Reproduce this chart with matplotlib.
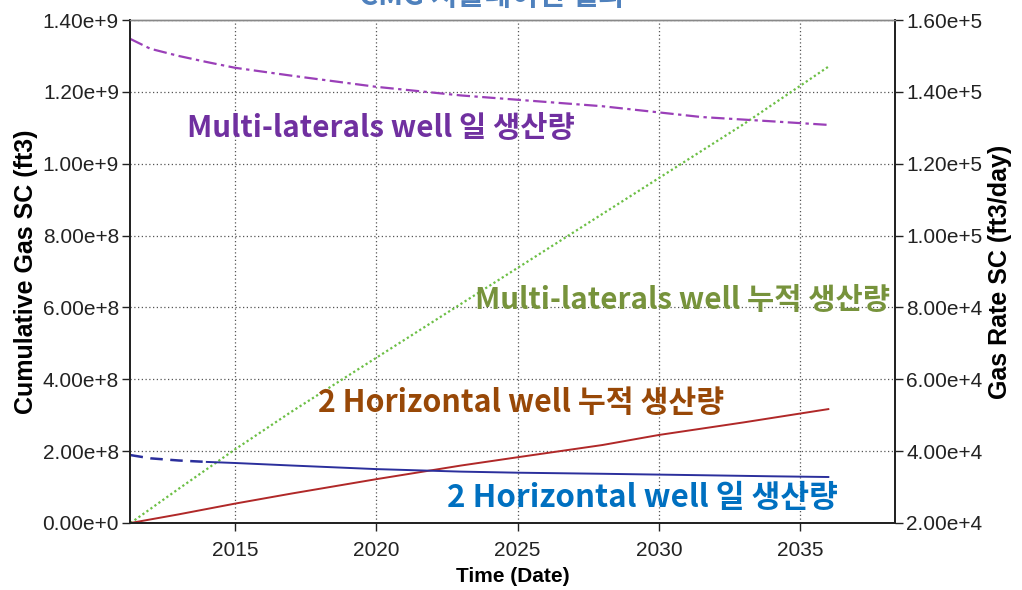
import matplotlib

matplotlib.use("Agg")
import matplotlib.pyplot as plt
from matplotlib.ticker import FuncFormatter, MultipleLocator

# --- data ------------------------------------------------------------------
# cumulative gas (ft3), left axis
cum_years = [2011.3, 2013, 2015, 2017, 2020, 2023, 2025, 2028, 2030, 2033, 2036]
cum_multi = [0.0, 0.95e8, 2.05e8, 3.10e8, 4.60e8, 6.10e8, 7.10e8, 8.60e8, 9.60e8, 1.11e9, 1.27e9]
cum_horiz = [0.0, 2.4e7, 5.4e7, 8.2e7, 1.22e8, 1.60e8, 1.83e8, 2.17e8, 2.45e8, 2.80e8, 3.17e8]

# gas rate (ft3/day), right axis
rate_years = [2011.3, 2012, 2013, 2014, 2015, 2017, 2020, 2023, 2025, 2028, 2031.5, 2034, 2036]
rate_multi = [1.547e5, 1.52e5, 1.50e5, 1.483e5, 1.467e5, 1.445e5, 1.414e5, 1.39e5, 1.378e5,
              1.36e5, 1.33e5, 1.318e5, 1.308e5]
rate_horiz = [3.89e4, 3.80e4, 3.74e4, 3.70e4, 3.67e4, 3.60e4, 3.50e4, 3.43e4, 3.40e4,
              3.37e4, 3.33e4, 3.30e4, 3.28e4]
dashed_until = 2014  # early part of the horizontal-well rate is drawn dashed

title = "CMG 시뮬레이션 결과"
# text, x (year), y (left-axis units), colour, font size
notes = [
    ("Multi-laterals well 일 생산량", 2013.3, 1.099e9, "#7030A0", 21.3),
    ("Multi-laterals well 누적 생산량", 2023.5, 6.21e8, "#77933C", 21.3),
    ("2 Horizontal well 누적 생산량", 2017.94, 3.34e8, "#984807", 21.8),
    ("2 Horizontal well 일 생산량", 2022.5, 0.70e8, "#0070C0", 22.5),
]


def sci(v, _pos):
    mant, exp = f"{v:.2e}".split("e")
    return f"{mant}e{exp[0]}{int(exp[1:])}"


fig = plt.figure(figsize=(10.22, 5.90), dpi=100)
ax = fig.add_axes((130 / 1022, 1 - 523 / 590, 765 / 1022, 503 / 590))
ax2 = ax.twinx()

ax.plot(cum_years, cum_multi, color="#6CBF45", lw=1.6, ls=(0, (1, 1.2)))
ax.plot(cum_years, cum_horiz, color="#B02828", lw=1.4)

k = rate_years.index(dashed_until) + 1
ax2.plot(rate_years, rate_multi, color="#9A3FB8", lw=1.6, ls=(0, (6, 2, 1.5, 2)))
ax2.plot(rate_years[:k], rate_horiz[:k], color="#2B2F9C", lw=1.8, ls=(0, (5, 3)))
ax2.plot(rate_years[k - 1:], rate_horiz[k - 1:], color="#2B2F9C", lw=1.4)

ax.set_xlim(2011.28, 2038.36)
ax.set_ylim(0, 1.4e9)
ax2.set_ylim(2e4, 1.6e5)
ax.xaxis.set_major_locator(MultipleLocator(5))
ax.yaxis.set_major_locator(MultipleLocator(2e8))
ax2.yaxis.set_major_locator(MultipleLocator(2e4))
ax.yaxis.set_major_formatter(FuncFormatter(sci))
ax2.yaxis.set_major_formatter(FuncFormatter(sci))

ax.grid(True, color="#555555", ls=(0, (1, 2)), lw=0.9)
ax.set_axisbelow(True)

for a in (ax, ax2):
    a.tick_params(direction="out", length=6, width=1, labelsize=15,
                  colors="#222222", labelcolor="#222222")
    a.tick_params(axis="x", pad=7)
    a.tick_params(axis="y", pad=2)
    for side in ("left", "right", "bottom"):
        a.spines[side].set_color("#222222")
        a.spines[side].set_linewidth(1.3)
    a.spines["top"].set_color("#888888")
    a.spines["top"].set_linewidth(1.0)
    for lab in a.get_xticklabels() + a.get_yticklabels():
        lab.set_family("Liberation Sans")

ax.set_xlabel("Time (Date)", fontsize=15, fontweight="bold", family="Liberation Sans",
              labelpad=5)
ax.set_ylabel("Cumulative Gas SC (ft3)", fontsize=18, fontweight="bold",
              family="Liberation Sans", labelpad=3)
ax2.set_ylabel("Gas Rate SC (ft3/day)", fontsize=18, fontweight="bold",
               family="Liberation Sans", labelpad=4)

korean = ["Noto Sans CJK KR", "DejaVu Sans"]
for text, x, y, color, size in notes:
    ax.text(x, y, text, color=color, fontsize=size, fontweight="bold", family=korean,
            ha="left", va="center")

fig.text(0.482, 1.006, title, color="#4F81BD", fontsize=21, fontweight="bold",
         family=korean, ha="center", va="center")

fig.savefig("out.png", dpi=100)
